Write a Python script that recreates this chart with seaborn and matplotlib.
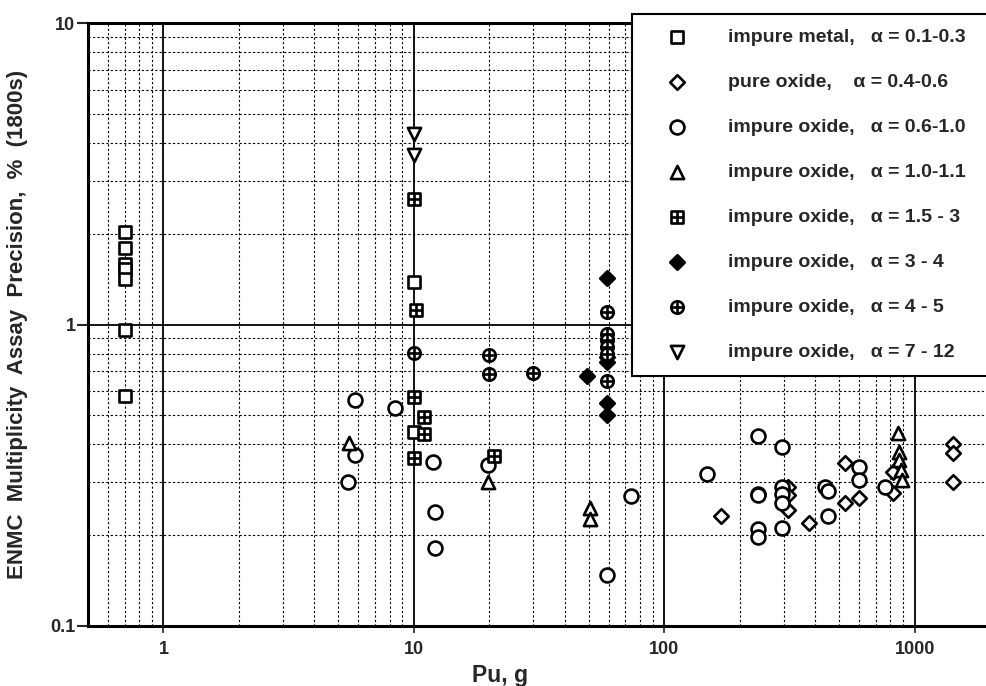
import numpy as np
import pandas as pd
import matplotlib
matplotlib.use("Agg")
import matplotlib.pyplot as plt
from matplotlib.path import Path
from matplotlib.ticker import FixedLocator, FixedFormatter, LogLocator, NullFormatter
import seaborn as sns

sns.set_theme(style="white")
plt.rcParams["font.family"] = ["Liberation Sans", "DejaVu Sans"]
plt.rcParams["font.weight"] = "bold"

# -------------------------------
# DATA
# -------------------------------
metal_x = [0.7, 0.7, 0.7, 0.7, 0.7, 0.7, 0.7, 10, 10]
metal_y = [2.03, 1.79, 1.59, 1.53, 1.42, 0.96, 0.58, 1.38, 0.44]

pure_x = [169, 313, 313, 313, 379, 528, 528, 600, 821, 821, 1425, 1425, 1425]
pure_y = [0.231, 0.288, 0.272, 0.243, 0.219, 0.346, 0.255, 0.265, 0.323, 0.277, 0.403, 0.376, 0.30]

circ_x = [5.84, 8.44, 5.84, 5.48, 11.9, 12.1, 12.1, 19.7, 73.8, 59.2, 148,
          237, 237, 237, 237, 237, 296, 296, 296, 296, 296, 439, 452, 452, 600, 600, 762]
circ_y = [0.56, 0.53, 0.368, 0.30, 0.351, 0.238, 0.182, 0.343, 0.269, 0.148, 0.32,
          0.428, 0.275, 0.272, 0.21, 0.198, 0.391, 0.288, 0.275, 0.255, 0.212, 0.288, 0.28, 0.231,
          0.336, 0.306, 0.29]

tri_x = [5.53, 19.8, 50.7, 50.7, 859, 870, 870, 880, 890]
tri_y = [0.406, 0.30, 0.247, 0.227, 0.435, 0.379, 0.354, 0.328, 0.306]

xsq_x = [10, 10.2, 10, 11, 11, 10, 21]
xsq_y = [2.6, 1.12, 0.573, 0.495, 0.432, 0.362, 0.366]

fdia_x = [59, 49, 59, 59, 59, 59]
fdia_y = [1.43, 0.677, 0.547, 0.50, 0.78, 0.75]

xcir_x = [10, 20, 20, 30, 59, 59, 59, 59, 59, 59]
xcir_y = [0.807, 0.795, 0.687, 0.693, 0.652, 1.10, 0.93, 0.885, 0.84, 0.80]

dtri_x = [10, 10]
dtri_y = [4.3, 3.66]

labels = [
    "impure metal,   \u03b1 = 0.1-0.3",
    "pure oxide,    \u03b1 = 0.4-0.6",
    "impure oxide,   \u03b1 = 0.6-1.0",
    "impure oxide,   \u03b1 = 1.0-1.1",
    "impure oxide,   \u03b1 = 1.5 - 3",
    "impure oxide,   \u03b1 = 3 - 4",
    "impure oxide,   \u03b1 = 4 - 5",
    "impure oxide,   \u03b1 = 7 - 12",
]

x_ticks = [1, 10, 100, 1000]
x_ticklabels = ["1", "10", "100", "1000"]
y_ticks = [0.1, 1, 10]
y_ticklabels = ["0.1", "1", "10"]


# -------------------------------
# CUSTOM MARKERS
# -------------------------------
def crossed_square():
    verts = [(-1, -1), (1, -1), (1, 1), (-1, 1), (-1, -1),
             (-1, 0), (1, 0), (0, -1), (0, 1)]
    codes = [Path.MOVETO, Path.LINETO, Path.LINETO, Path.LINETO, Path.CLOSEPOLY,
             Path.MOVETO, Path.LINETO, Path.MOVETO, Path.LINETO]
    return Path(verts, codes)


def crossed_circle():
    return Path.make_compound_path(
        Path.unit_circle(),
        Path([(-1, 0), (1, 0)]),
        Path([(0, -1), (0, 1)]),
    )


series = [
    (metal_x, metal_y, "s", "white", 80),
    (pure_x, pure_y, "D", "white", 55),
    (circ_x, circ_y, "o", "white", 100),
    (tri_x, tri_y, "^", "white", 90),
    (xsq_x, xsq_y, crossed_square(), "white", 80),
    (fdia_x, fdia_y, "D", "black", 55),
    (xcir_x, xcir_y, crossed_circle(), "white", 80),
    (dtri_x, dtri_y, "v", "white", 90),
]

frames = []
for i, (xs, ys, *_rest) in enumerate(series):
    frames.append(pd.DataFrame({"pu": xs, "prec": ys, "group": labels[i]}))
df = pd.concat(frames, ignore_index=True)

# -------------------------------
# PLOT
# -------------------------------
fig = plt.figure(figsize=(9.86, 6.86), dpi=100)
ax = fig.add_axes([88 / 986, 1 - 626 / 686, 902 / 986, 603 / 686])

for (xs, ys, marker, face, size), lab in zip(series, labels):
    g = df[df["group"] == lab]
    sns.scatterplot(data=g, x="pu", y="prec", marker=marker, s=size,
                    color=face, edgecolor="black", linewidth=1.9,
                    label=lab, ax=ax, zorder=3, clip_on=False)

ax.set_xscale("log")
ax.set_yscale("log")
ax.set_xlim(0.5, 2000)
ax.set_ylim(0.1, 10)

ax.xaxis.set_major_locator(FixedLocator(x_ticks))
ax.xaxis.set_major_formatter(FixedFormatter(x_ticklabels))
ax.yaxis.set_major_locator(FixedLocator(y_ticks))
ax.yaxis.set_major_formatter(FixedFormatter(y_ticklabels))
ax.xaxis.set_minor_locator(LogLocator(base=10, subs=np.arange(2, 10)))
ax.yaxis.set_minor_locator(LogLocator(base=10, subs=np.arange(2, 10)))
ax.xaxis.set_minor_formatter(NullFormatter())
ax.yaxis.set_minor_formatter(NullFormatter())

ax.set_axisbelow(True)
ax.grid(True, which="major", color="black", linestyle="-", linewidth=1.3)
ax.grid(True, which="minor", color="black", linestyle=(0, (2, 2)), linewidth=0.8)

ax.tick_params(axis="y", which="major", direction="out", length=8, width=1.5,
               labelsize=13, pad=1, left=True)
ax.tick_params(axis="x", which="major", direction="out", length=5, width=1.2,
               labelsize=13, pad=6, bottom=True)
ax.tick_params(which="minor", length=0)
for lab in ax.get_xticklabels() + ax.get_yticklabels():
    lab.set_fontweight("bold")

for side in ["left", "bottom", "top"]:
    ax.spines[side].set_color("black")
    ax.spines[side].set_linewidth(2.2)
ax.spines["right"].set_visible(False)

ax.set_xlabel("Pu, g", fontsize=16.5, fontweight="bold")
ax.xaxis.set_label_coords(0.457, -0.063)
ax.set_ylabel("ENMC  Multiplicity  Assay  Precision,  %  (1800s)", fontsize=16,
              fontweight="bold")
ax.yaxis.set_label_coords(-0.066, 0.5)

# legend box runs past the right edge of the picture, as in the original
leg = ax.legend(loc="upper left", bbox_to_anchor=(0.603, 0.0, 0.42, 1.015),
                mode="expand", frameon=True,
                fancybox=False, framealpha=1, edgecolor="black", fontsize=14,
                labelspacing=1.41, handletextpad=1.09, handlelength=3.1,
                borderpad=0.75, borderaxespad=0)
leg.get_frame().set_linewidth(1.5)
leg.set_zorder(10)
for t in leg.get_texts():
    t.set_fontweight("bold")

fig.savefig("out.png", dpi=100)
